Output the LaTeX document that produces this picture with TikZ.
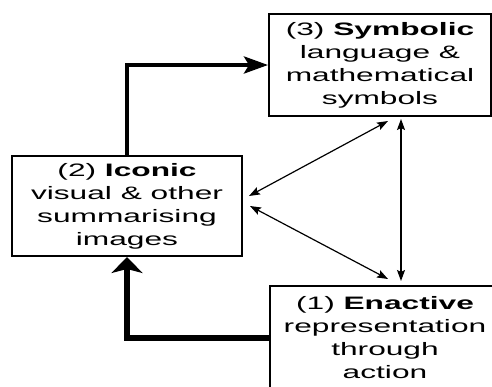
\documentclass[tikz,border=0pt]{standalone}
\usepackage{fontspec}
\setmainfont{Liberation Sans}[FakeStretch=1.76]
\usetikzlibrary{arrows.meta}
\begin{document}
\begin{tikzpicture}[x=1pt,y=-1pt,
  box/.style={draw, line width=2pt, inner sep=0pt, align=center,
    font=\fontsize{18}{23}\selectfont},
  dbl/.style={line width=1.2pt,
    {Stealth[length=11pt,width=8pt,inset=2pt]}-{Stealth[length=11pt,width=8pt,inset=2pt]}},
  toparrow/.style={line width=4pt, -{Stealth[length=24pt,width=17pt,inset=5pt]}},
  botarrow/.style={line width=5.5pt, -{Stealth[length=16pt,width=31pt,inset=4pt]}}]
\useasboundingbox (0,0) rectangle (492,386);
\clip (0,0) rectangle (492,386);
\node[box, minimum width=222pt, minimum height=102pt] (symbolic) at (380,65)
  {(3) \textbf{Symbolic}\\language \&\\mathematical\\symbols};
\node[box, minimum width=230pt, minimum height=100pt] (iconic) at (127,206)
  {(2) \textbf{Iconic}\\visual \& other\\summarising\\images};
\node[box, minimum width=230pt, minimum height=104pt] (enactive) at (385,338)
  {(1) \textbf{Enactive}\\representation\\through\\action};
\draw[toparrow] (iconic.north) |- (symbolic.west);
\draw[botarrow] (enactive.west) -| (iconic.south);
\draw[dbl] ([xshift=6pt,yshift=10pt]iconic.east) -- ([xshift=8pt,yshift=-4pt]symbolic.south);
\draw[dbl] ([xshift=7pt]iconic.east) -- ([xshift=3pt,yshift=6pt]enactive.north);
\draw[dbl] ([xshift=21pt,yshift=-2pt]symbolic.south) -- ([xshift=16pt,yshift=4pt]enactive.north);
\end{tikzpicture}
\end{document}
